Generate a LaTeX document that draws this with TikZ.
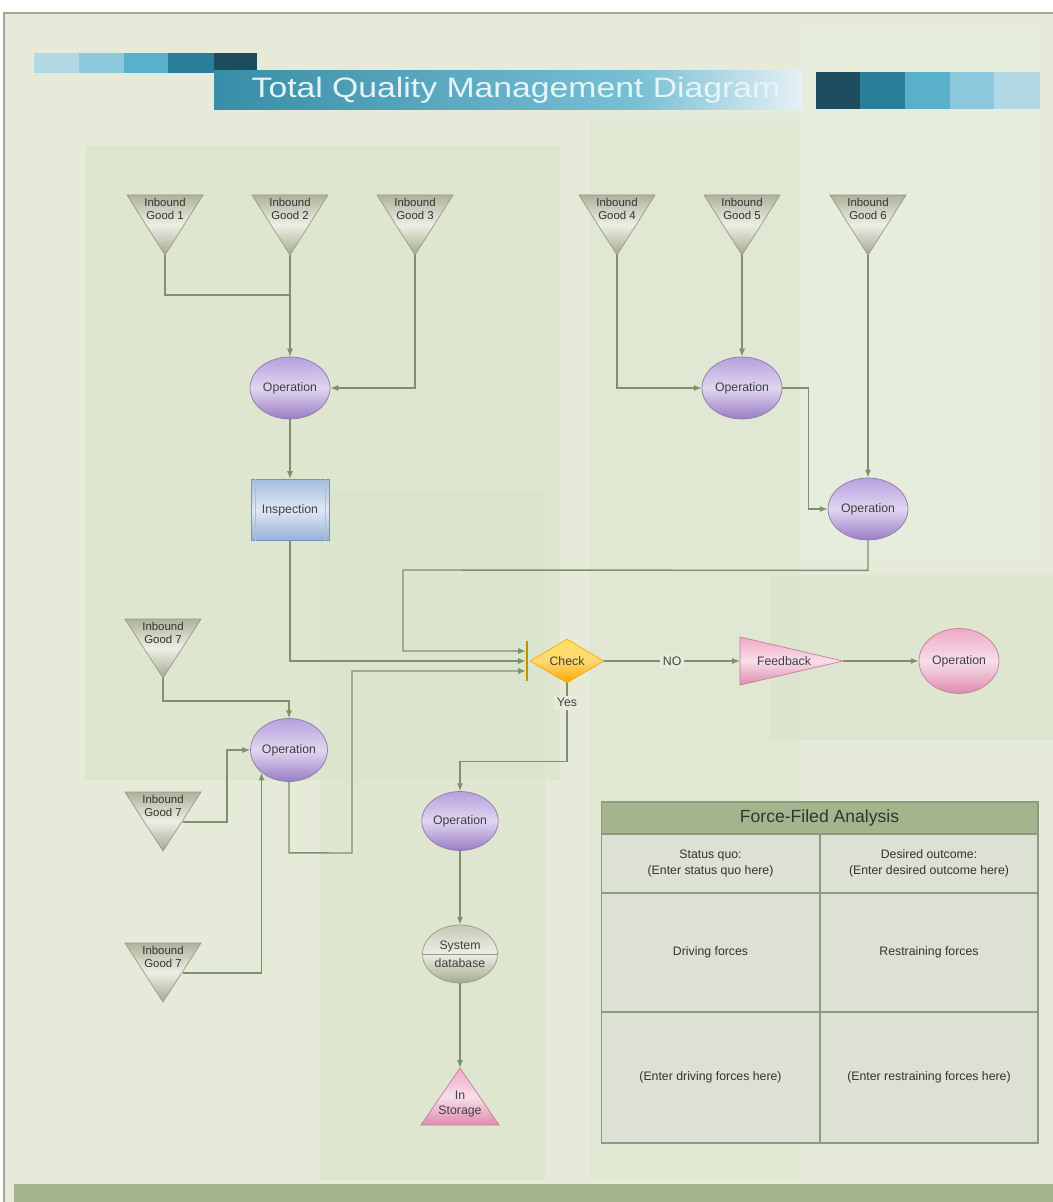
\documentclass[tikz,border=0pt]{standalone}
\usepackage{fontspec}
\setmainfont{Liberation Sans}
\usetikzlibrary{shapes.geometric,arrows.meta,positioning,calc}

\definecolor{bg}{HTML}{E5EBD8}
\definecolor{bgdark}{HTML}{DAE3CB}
\definecolor{bglight}{HTML}{EAEFE0}
\definecolor{framec}{HTML}{A3A79A}
\definecolor{linec}{HTML}{7E906C}
\definecolor{optop}{HTML}{B7A0DD}
\definecolor{opmid}{HTML}{E0D6F0}
\definecolor{opbot}{HTML}{9A7CC5}
\definecolor{opline}{HTML}{8C7AAA}
\definecolor{pinktop}{HTML}{EFA9C6}
\definecolor{pinkmid}{HTML}{F8DEE9}
\definecolor{pinkbot}{HTML}{DE8CAE}
\definecolor{pinkline}{HTML}{C77C9C}
\definecolor{goodtop}{HTML}{AEB39A}
\definecolor{goodmid}{HTML}{EDEFE5}
\definecolor{goodbot}{HTML}{A4A98F}
\definecolor{goodline}{HTML}{979C86}
\definecolor{insptop}{HTML}{A6BEE0}
\definecolor{inspmid}{HTML}{DFE8F4}
\definecolor{inspbot}{HTML}{95B0D8}
\definecolor{inspline}{HTML}{7893BE}
\definecolor{headc}{HTML}{A4B58E}
\definecolor{cellc}{HTML}{DCE1D3}
\definecolor{tablec}{HTML}{8D9A80}
\definecolor{bandc}{HTML}{A2B48B}
\definecolor{titletext}{HTML}{E4F5FA}
\definecolor{sq1}{HTML}{B2D8E6}
\definecolor{sq2}{HTML}{8CC8DC}
\definecolor{sq3}{HTML}{58B0CA}
\definecolor{sq4}{HTML}{2B7E98}
\definecolor{sq5}{HTML}{1C4C5E}

\tikzset{
  flow/.style={draw=linec, line width=0.8pt, -{Latex[length=4.5pt,width=3.5pt]}},
  link/.style={draw=linec, line width=0.8pt},
  operation/.style={ellipse, draw=opline, line width=0.4pt, top color=optop, bottom color=opbot, middle color=opmid,
    minimum width=1.6cm, minimum height=1.24cm, inner sep=0pt, text=black!75, font=\fontsize{7}{8}\selectfont},
  goodshape/.style={draw=goodline, line width=0.4pt, top color=goodtop, bottom color=goodbot, middle color=goodmid},
  goodtext/.style={align=center, inner sep=0pt, text=black!80, font=\fontsize{6.5}{7.2}\selectfont},
  pinkshape/.style={draw=pinkline, line width=0.4pt, top color=pinktop, bottom color=pinkbot, middle color=pinkmid},
  lbl/.style={fill=bg, inner sep=1.5pt, text=black!75, font=\fontsize{7}{8}\selectfont},
  cell/.style={draw=tablec, line width=0.6pt, fill=cellc, align=center, inner sep=0pt, text=black!80,
    font=\fontsize{7}{9}\selectfont}
}

\begin{document}
\begin{tikzpicture}[x=0.02cm, y=-0.02cm]
\useasboundingbox (0,0) rectangle (1053,1202);

% background and frame
\fill[white] (0,0) rectangle (1053,1202);
\fill[bg] (4,13) rectangle (1053,1202);
\fill[bgdark, opacity=0.6] (85,145) rectangle (560,780);
\fill[bgdark, opacity=0.6] (320,490) rectangle (545,1180);
\fill[bgdark, opacity=0.4] (590,120) rectangle (800,1180);
\fill[bgdark, opacity=0.6] (770,575) rectangle (1053,740);
\fill[bglight, opacity=0.5] (800,30) rectangle (1040,560);
\draw[framec, line width=0.8pt] (4,1202) -- (4,13) -- (1053,13);
\fill[bandc] (14,1184) rectangle (1053,1202);

% title bar
\fill[sq1] (34,53) rectangle (79,73);
\fill[sq2] (79,53) rectangle (124,73);
\fill[sq3] (124,53) rectangle (168,73);
\fill[sq4] (168,53) rectangle (214,73);
\fill[sq5] (214,53) rectangle (257,73);
\shade[left color=sq4!70!sq3, right color=sq3!80!white] (214,71) rectangle (640,110);
\shade[left color=sq3!80!white, right color=black!4!sq1!30!white] (640,71) rectangle (803,110);
\node[text=titletext, font=\fontsize{16}{18}\selectfont] (title) at (516,90)
  {\scalebox{1.2}[1]{Total Quality Management Diagram}};
\fill[sq5] (816,72) rectangle (860,109);
\fill[sq4] (860,72) rectangle (905,109);
\fill[sq3] (905,72) rectangle (950,109);
\fill[sq2] (950,72) rectangle (994,109);
\fill[sq1] (994,72) rectangle (1040,109);

% inbound goods, top row
\foreach \n/\x in {1/165,2/290,3/415,4/617,5/742,6/868}{
  \path[goodshape] (\x-38,195) -- (\x+38,195) -- (\x,255) -- cycle;
  \node[goodtext] (g\n) at (\x,209) {Inbound\\Good \n};
  \coordinate (g\n-tip) at (\x,255);
}

% inbound goods, left column
\foreach \n/\y in {a/619,b/792,c/943}{
  \path[goodshape] (125,\y) -- (201,\y) -- (163,\y+59) -- cycle;
  \node[goodtext] (g7\n) at (163,\y+14) {Inbound\\Good 7};
  \coordinate (g7\n-tip) at (163,\y+59);
  \coordinate (g7\n-e) at (183,\y+30);
}

% operations
\node[operation] (op1) at (290,388) {Operation};
\node[operation] (op2) at (742,388) {Operation};
\node[operation] (op3) at (868,509) {Operation};
\node[operation, minimum width=1.54cm, minimum height=1.26cm] (op4) at (289,750) {Operation};
\node[operation, minimum width=1.52cm, minimum height=1.18cm] (op5) at (460,821) {Operation};
\node[operation, pinkshape, minimum height=1.3cm] (op6) at (959,661) {Operation};

% inspection
\node[draw=inspline, line width=0.5pt, top color=insptop, bottom color=inspbot, middle color=inspmid,
  minimum width=1.56cm, minimum height=1.22cm, inner sep=0pt,
  text=black!75, font=\fontsize{7}{8}\selectfont] (insp) at (290,510) {Inspection};
\draw[inspline!60!white, line width=0.4pt] ([xshift=2.5pt]insp.north west) -- ([xshift=2.5pt]insp.south west)
  ([xshift=-2.5pt]insp.north east) -- ([xshift=-2.5pt]insp.south east);

% check
\node[diamond, draw=orange!70!yellow, line width=0.4pt, top color=yellow!60!orange!60, bottom color=orange!70!yellow,
  middle color=yellow!45!orange!55, minimum width=1.48cm, minimum height=0.84cm, inner sep=0pt,
  text=black!75, font=\fontsize{7}{8}\selectfont] (check) at (567,661) {Check};
\draw[orange!45!yellow!75!black, line width=0.6pt] (527,641) -- (527,681);
\coordinate (in1) at (526,651);
\coordinate (in2) at (526,661);
\coordinate (in3) at (526,671);

% feedback
\path[pinkshape] (740,637) -- (843,661) -- (740,685) -- cycle;
\node[inner sep=0pt, text=black!75, font=\fontsize{7}{8}\selectfont] (fb) at (784,661) {Feedback};
\coordinate (fb-w) at (740,661);
\coordinate (fb-tip) at (843,661);

% system database
\node[ellipse, draw=goodline, line width=0.4pt, top color=goodtop!70!white, bottom color=goodbot, middle color=goodmid,
  minimum width=1.5cm, minimum height=1.16cm, inner sep=0pt, align=center, text=black!75,
  font=\fontsize{7}{10}\selectfont] (db) at (460,954) {System\\database};
\draw[goodline, line width=0.4pt] (db.west) -- (db.east);

% in storage
\path[pinkshape] (460,1068) -- (499,1125) -- (421,1125) -- cycle;
\node[align=center, inner sep=0pt, text=black!75, font=\fontsize{7}{9}\selectfont] (store) at (460,1104) {In\\Storage};
\coordinate (store-tip) at (460,1068);

% connectors, top left
\draw[link] (g1-tip) -- ++(0,40) -| (g2-tip);
\draw[flow] (g2-tip) -- (op1);
\draw[flow] (g3-tip) |- (op1.east);
\draw[flow] (op1) -- (insp);
\draw[flow] (insp.south) |- (in2);

% connectors, top right
\draw[flow] (g4-tip) |- (op2.west);
\draw[flow] (g5-tip) -- (op2);
\draw[flow] (op2.east) -- ++(26,0) |- (op3.west);
\draw[flow] (g6-tip) -- (op3);
\draw[flow] (op3.south) -- ++(0,30) -- (403,570) |- (in1);

% connectors, lower left
\draw[flow] (g7a-tip) -- ++(0,23) -| (op4.north);
\draw[flow] (g7b-e) -- ++(44,0) |- (op4.west);
\draw[flow] (g7c-e) -| (op4.south west);
\draw[flow] (op4.south) -- ++(0,71) -- (352,853) |- (in3);

% check outputs
\draw[flow] (check.east) -- node[lbl] {NO} (fb-w);
\draw[flow] (fb-tip) -- (op6.west);
\draw[flow] (check.south) -- node[lbl, pos=0.25] {Yes} ++(0,78) -| (op5.north);
\draw[flow] (op5) -- (db);
\draw[flow] (db.south) -- (store-tip);

% force-field table
\node[cell, fill=headc, minimum width=8.74cm, minimum height=0.64cm, font=\fontsize{10}{12}\selectfont] (ffa) at (819.5,818) {Force-Filed Analysis};
\node[cell, minimum width=4.38cm, minimum height=1.18cm] (quo) at (710.5,863.5) {Status quo:\\(Enter status quo here)};
\node[cell, minimum width=4.36cm, minimum height=1.18cm] (goal) at (929,863.5) {Desired outcome:\\(Enter desired outcome here)};
\node[cell, minimum width=4.38cm, minimum height=2.38cm] (drive) at (710.5,952.5) {Driving forces};
\node[cell, minimum width=4.36cm, minimum height=2.38cm] (hold) at (929,952.5) {Restraining forces};
\node[cell, minimum width=4.38cm, minimum height=2.62cm] (drivein) at (710.5,1077.5) {(Enter driving forces here)};
\node[cell, minimum width=4.36cm, minimum height=2.62cm] (holdin) at (929,1077.5) {(Enter restraining forces here)};

\end{tikzpicture}
\end{document}
